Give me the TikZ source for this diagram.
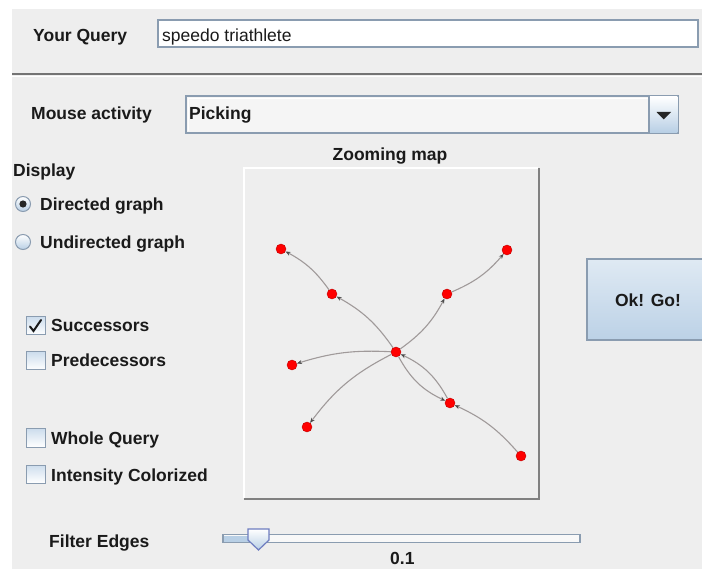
\documentclass[tikz,border=0pt]{standalone}
\usepackage{fontspec}
\setmainfont{Liberation Sans}
\usetikzlibrary{arrows.meta}
\definecolor{panelbg}{HTML}{EEEEEE}
\definecolor{ocean}{HTML}{8A9CB0}
\definecolor{oceanlight}{HTML}{B8CFE5}
\definecolor{edgegray}{HTML}{A09A9A}
\definecolor{txt}{HTML}{1A1A1A}
\tikzset{
  lbl/.style={anchor=base west, inner sep=0pt, text=txt, font=\fontsize{17.5}{20}\selectfont\bfseries},
  plain/.style={anchor=base west, inner sep=0pt, text=txt, font=\fontsize{17.5}{20}\selectfont},
  field/.style={draw=ocean, line width=1.2pt},
  gnode/.style={circle, fill=red, draw=red!75!black, line width=0.4pt, minimum size=10pt, inner sep=0pt},
  gedge/.style={draw=edgegray, line width=1.1pt, -{Stealth[length=5pt,width=4pt,color=black!70]}, bend right=13},
  chk/.style={draw=ocean, line width=1pt, top color=oceanlight!70, bottom color=white},
  radio/.style={circle, draw=ocean, line width=1pt, top color=white, bottom color=oceanlight, minimum size=15pt, inner sep=0pt},
}
\begin{document}
\begin{tikzpicture}[x=1pt,y=-1pt]
\useasboundingbox (0,0) rectangle (702,569);
\fill[white] (0,0) rectangle (702,569);
\fill[panelbg] (12,9) rectangle (702,569);

% query row
\node[lbl] (yq) at (33,42) {Your Query};
\draw[field, fill=white] (158,20) rectangle (698,47);
\node[plain] (qtext) at (162,42) {speedo triathlete};

% separator
\draw[black!55, line width=2.2pt] (12,74) -- (702,74);
\draw[white, line width=0.8pt] (12,76.5) -- (702,76.5);

% mouse activity
\node[lbl] (ma) at (31,120) {Mouse activity};
\draw[field, fill=panelbg!60!white] (186,96) rectangle (678,133);
\draw[white, line width=0.8pt] (188,131) -- (188,98) -- (648,98);
\shade[top color=white, bottom color=oceanlight] (649,96.6) rectangle (677.4,132.4);
\draw[field] (649,96) -- (649,133);
\fill[black!85] (656.5,112) -- (671,112) -- (663.75,119.5) -- cycle;
\node[lbl] (pick) at (189,120) {Picking};

% zooming map
\node[lbl, anchor=base] (zm) at (390,161) {Zooming map};
\fill[panelbg] (244,168) rectangle (538,498);
\draw[white, line width=1.5pt] (244,498) -- (244,168) -- (538,168);
\draw[black!50, line width=2pt] (244,499) -- (539,499) -- (539,168);

% display panel
\node[lbl] (disp) at (13,177) {Display};
\node[radio] (r1) at (23,204) {};
\fill[black!85] (r1) circle (3.6pt);
\node[lbl] (dg) at (40,211) {Directed graph};
\node[radio] (r2) at (23,242) {};
\node[lbl] (ug) at (40,249) {Undirected graph};

\draw[chk] (26,317) rectangle (45,335);
\draw[black!90, line width=2pt, line cap=round] (30,326.5) -- (33.5,331) -- (41,320);
\node[lbl] (succ) at (51,332) {Successors};
\draw[chk] (26,352) rectangle (45,370);
\node[lbl] (pred) at (51,367) {Predecessors};
\draw[chk] (26,429) rectangle (45,447);
\node[lbl] (wq) at (51,445) {Whole Query};
\draw[chk] (26,465) rectangle (45,483);
\node[lbl] (ic) at (51,482) {Intensity Colorized};

% button
\shade[top color=oceanlight!45, middle color=white, bottom color=oceanlight!95] (587,259) rectangle (703,340);
\draw[field] (587,259) rectangle (705,340);
\node[lbl, anchor=base] (ok) at (648,307) {Ok! Go!};

% slider
\node[lbl] (fe) at (49,547) {Filter Edges};
\draw[field, fill=white!60!panelbg] (223,534.5) rectangle (580,542.5);
\fill[oceanlight] (224,535.5) rectangle (250,541.5);
\shade[top color=white, bottom color=oceanlight, draw=ocean!80!blue, line width=1.2pt]
  (248,529) -- (269,529) -- (269,540) -- (258.5,550) -- (248,540) -- cycle;
\node[lbl] (val) at (390,564) {0.1};

% graph
\node[gnode] (A) at (281,249) {};
\node[gnode] (B) at (332,294) {};
\node[gnode] (C) at (507,250) {};
\node[gnode] (D) at (447,294) {};
\node[gnode] (E) at (396,352) {};
\node[gnode] (F) at (292,365) {};
\node[gnode] (G) at (307,427) {};
\node[gnode] (H) at (450,403) {};
\node[gnode] (I) at (521,456) {};
\draw[gedge] (B) to (A);
\draw[gedge] (E) to (B);
\draw[gedge] (E) to (D);
\draw[gedge] (D) to (C);
\draw[gedge, bend right=10] (E) to (F);
\draw[gedge] (E) to (G);
\draw[gedge, bend right=18] (E) to (H);
\draw[gedge, bend right=18] (H) to (E);
\draw[gedge, bend right=12] (I) to (H);
\end{tikzpicture}
\end{document}
